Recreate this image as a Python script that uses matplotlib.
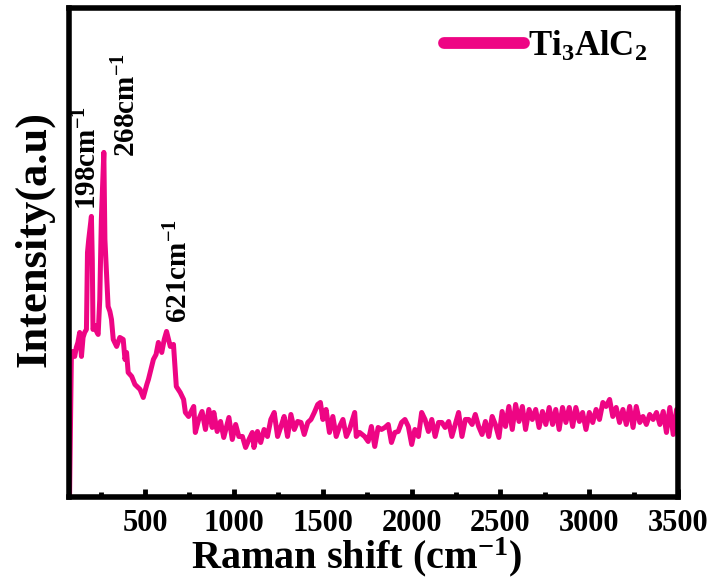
import matplotlib
matplotlib.use("Agg")
import matplotlib.pyplot as plt
from matplotlib.ticker import MultipleLocator

plt.rcParams['font.family'] = ['Liberation Serif', 'DejaVu Serif']
plt.rcParams['font.weight'] = 'bold'
plt.rcParams['mathtext.fontset'] = 'custom'
plt.rcParams['mathtext.rm'] = 'Liberation Serif:bold'
plt.rcParams['mathtext.bf'] = 'Liberation Serif:bold'
plt.rcParams['mathtext.it'] = 'Liberation Serif:bold'

# Raman shift (cm^-1)
raman_shift = [
    75, 85, 92, 104, 113, 122, 132, 142, 151, 160, 170, 176, 183, 198, 203, 207,
    217, 227, 236, 245, 254, 268, 274, 292, 302, 311, 321, 340, 358, 377, 387,
    396, 405, 425, 443, 472, 490, 510, 519, 547, 562, 575, 594, 608, 621, 642,
    660, 676,
    698, 717, 727, 745, 774, 783, 802, 821, 840, 859, 878, 887, 906, 925, 943,
    972, 991, 1010, 1028, 1048, 1066, 1085, 1104, 1113, 1133, 1151, 1170, 1189,
    1208, 1227, 1246, 1265, 1283, 1302, 1321, 1340, 1359, 1378, 1396, 1416,
    1434, 1453, 1472, 1487, 1501, 1519, 1538, 1557, 1576, 1595, 1614, 1633,
    1651, 1680, 1689, 1708, 1736, 1756, 1774, 1793, 1812, 1831, 1850, 1869,
    1887, 1906, 1925, 1944, 1963, 1982, 2001, 2019, 2039, 2057, 2076, 2095,
    2114, 2133, 2152, 2171, 2189, 2209, 2227, 2246, 2265, 2284, 2303, 2322,
    2341, 2359, 2378, 2397, 2416, 2435, 2454, 2472, 2492, 2510,
    2529, 2548, 2567, 2586, 2605, 2624, 2642, 2662, 2680, 2699, 2718, 2737,
    2756, 2775, 2794, 2812, 2831, 2850, 2869, 2888, 2907, 2925, 2945, 2963,
    2982, 3001, 3020, 3039, 3058, 3077, 3095, 3115, 3133, 3152, 3171, 3190,
    3209, 3228, 3247, 3265, 3285, 3303, 3322, 3341, 3360, 3379, 3398, 3417,
    3435, 3454, 3473, 3492, 3500,
]

# Intensity (a.u.)
intensity = [
    0, 137, 145, 140, 149, 154, 164, 140, 159, 164, 167, 244, 257, 280, 237, 167,
    171, 165, 162, 197, 277, 344, 257, 190, 185, 177, 157, 150, 159, 157, 137,
    144, 124, 120, 112, 107, 99, 112, 117, 137, 142, 154, 144, 157, 165, 150,
    152, 110,
    104, 97, 84, 80, 90, 64, 77, 85, 67, 87, 69, 84, 65, 75, 59,
    79, 57, 72, 60, 60, 49, 57, 64, 49, 65, 54, 67, 60,
    77, 84, 60, 70, 80, 60, 82, 67, 75, 74, 62, 74,
    77, 84, 92, 94, 77, 87, 64, 80, 60, 70, 77, 60,
    67, 84, 60, 64, 60, 55, 70, 50, 69, 67, 69, 72,
    54, 64, 65, 74, 77, 70, 52, 67, 60, 84, 77, 65,
    77, 60, 74, 74, 69, 75, 60, 72, 84, 60, 77, 77,
    72, 82, 70, 62, 75, 60, 80, 72, 59, 85,
    70, 90, 67, 92, 75, 90, 67, 87, 77, 87, 69, 85,
    72, 89, 72, 87, 67, 89, 74, 89, 70, 89, 75, 84,
    67, 84, 74, 87, 77, 94, 90, 97, 80, 89, 74, 87,
    72, 90, 69, 90, 74, 80, 72, 82, 77, 84, 72, 85,
    64, 89, 62, 87, 75,
]

peak_positions = [198, 268, 621]
peak_heights = [280, 344, 165]
peak_labels = ['198cm$^{-1}$', '268cm$^{-1}$', '621cm$^{-1}$']
series_label = 'Ti$_{3}$AlC$_{2}$'
xticks = [500, 1000, 1500, 2000, 2500, 3000, 3500]

fig = plt.figure(figsize=(7.13, 5.78), dpi=100)
ax = fig.add_axes([0.0968, 0.1410, 0.8541, 0.8446])

color = '#EE0584'
ax.plot(raman_shift, intensity, color=color, lw=3.6,
        solid_joinstyle='round', label=series_label)

ax.set_xlim(72, 3500)
ax.set_ylim(0, 488)
ax.set_yticks([])
ax.set_xticks(xticks)
ax.xaxis.set_minor_locator(MultipleLocator(250))
ax.tick_params(axis='x', which='major', direction='in', length=6, width=3.5,
               labelsize=22, pad=9, top=False)
ax.tick_params(axis='x', which='minor', direction='in', length=3.5, width=3.5,
               top=False)
for lab in ax.get_xticklabels():
    lab.set_fontweight('bold')
for s in ax.spines.values():
    s.set_linewidth(4)

ax.set_xlabel('Raman shift (cm$^{-1}$)', fontsize=29, fontweight='bold')
ax.xaxis.set_label_coords(0.473, -0.080)
ax.set_ylabel('Intensity(a.u)', fontsize=32, fontweight='bold')
ax.yaxis.set_label_coords(-0.024, 0.527)

# peak annotations
label_offsets = [(-20, 6), (130, -5), (72, 8)]
for px_, lbl, (dx, dy), h in zip(peak_positions, peak_labels, label_offsets, peak_heights):
    ax.text(px_ + dx, h + dy, lbl, rotation=90, ha='center', va='bottom',
            fontsize=21, fontweight='bold')

leg = ax.legend(loc='center right', bbox_to_anchor=(0.978, 0.922), frameon=False,
                fontsize=25, handlelength=2.3, handletextpad=0.1, borderpad=0)
for l in leg.get_lines():
    l.set_linewidth(8.5)
    l.set_solid_capstyle('round')

fig.savefig('out.png', dpi=100)
